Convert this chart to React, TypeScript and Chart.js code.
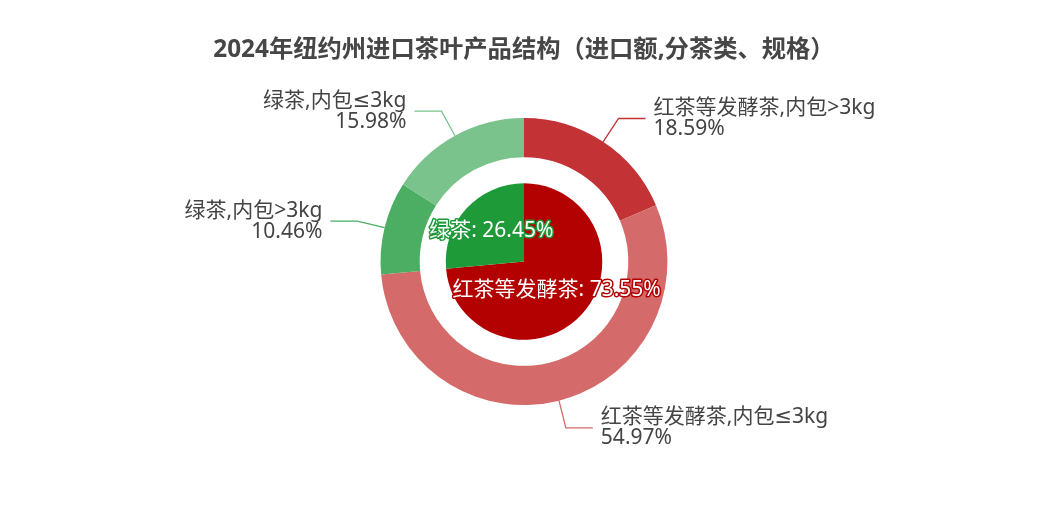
import { useEffect, useRef } from "react";
import { Chart, registerables } from "chart.js";

Chart.register(...registerables);

const TITLE = "2024年纽约州进口茶叶产品结构（进口额,分茶类、规格）";

// outer ring: by category and package size
const outerLabels = ["红茶等发酵茶,内包>3kg", "红茶等发酵茶,内包≤3kg", "绿茶,内包>3kg", "绿茶,内包≤3kg"];
const outerValues = [18.59, 54.97, 10.46, 15.98];
const outerColors = ["#c33335", "#d46a6a", "#4cae63", "#7bc38c"];

// inner pie: by category
const innerLabels = ["红茶等发酵茶", "绿茶"];
const innerValues = [73.55, 26.45];
const innerColors = ["#b30000", "#1e9a39"];

const FONT = "'Noto Sans', 'DejaVu Sans', 'Noto Sans CJK SC', sans-serif";

const pct = (v: number, arr: number[]) =>
  ((v / arr.reduce((a, b) => a + b, 0)) * 100).toFixed(2) + "%";

const labelPlugin = {
  id: "pieLabels",
  afterDatasetsDraw(chart: any) {
    const ctx = chart.ctx;
    ctx.save();

    // outer labels with leader lines
    const outer = chart.getDatasetMeta(0);
    outer.data.forEach((arc: any, i: number) => {
      const { x, y, startAngle, endAngle, outerRadius } = arc.getProps(
        ["x", "y", "startAngle", "endAngle", "outerRadius"], true);
      const a = (startAngle + endAngle) / 2;
      const cos = Math.cos(a);
      const sin = Math.sin(a);
      const x0 = x + cos * outerRadius;
      const y0 = y + sin * outerRadius;
      const x1 = x + cos * (outerRadius + 28);
      const y1 = y + sin * (outerRadius + 28);
      const right = cos >= 0;
      const x2 = x1 + (right ? 27 : -27);

      ctx.strokeStyle = outerColors[i];
      ctx.lineWidth = 1.3;
      ctx.beginPath();
      ctx.moveTo(x0, y0);
      ctx.lineTo(x1, y1);
      ctx.lineTo(x2, y1);
      ctx.stroke();

      ctx.fillStyle = "#444";
      ctx.font = `21px ${FONT}`;
      ctx.textAlign = right ? "left" : "right";
      ctx.textBaseline = "middle";
      const tx = x2 + (right ? 8 : -8);
      ctx.fillText(outerLabels[i], tx, y1 - 10.5);
      ctx.fillText(pct(outerValues[i], outerValues), tx, y1 + 10.5);
    });

    // inner labels, white text with coloured outline
    const inner = chart.getDatasetMeta(2);
    inner.data.forEach((arc: any, i: number) => {
      const { x, y, startAngle, endAngle, outerRadius } = arc.getProps(
        ["x", "y", "startAngle", "endAngle", "outerRadius"], true);
      const a = (startAngle + endAngle) / 2;
      const r = outerRadius * 0.565;
      const tx = x + Math.cos(a) * r;
      const ty = y + Math.sin(a) * r - 1;
      const text = `${innerLabels[i]}: ${pct(innerValues[i], innerValues)}`;
      ctx.font = `21px ${FONT}`;
      ctx.textAlign = "center";
      ctx.textBaseline = "middle";
      ctx.lineJoin = "round";
      ctx.lineWidth = 3;
      ctx.strokeStyle = innerColors[i];
      ctx.strokeText(text, tx, ty);
      ctx.fillStyle = "#ffffff";
      ctx.fillText(text, tx, ty);
    });

    ctx.restore();
  },
};

export default function App() {
  const canvasRef = useRef<HTMLCanvasElement>(null);
  const chartRef = useRef<Chart | null>(null);

  useEffect(() => {
    if (!canvasRef.current) return;
    if (chartRef.current) chartRef.current.destroy();

    chartRef.current = new Chart(canvasRef.current, {
      type: "doughnut",
      data: {
        labels: outerLabels,
        datasets: [
          {
            data: outerValues,
            backgroundColor: outerColors,
            borderWidth: 0,
            weight: 39,
          },
          {
            // white gap between ring and pie
            data: [1],
            backgroundColor: ["rgba(0,0,0,0)"],
            borderWidth: 0,
            weight: 26,
          },
          {
            data: innerValues,
            backgroundColor: innerColors,
            borderWidth: 0,
            weight: 78,
          },
        ],
      },
      options: {
        responsive: true,
        maintainAspectRatio: false,
        animation: false,
        cutout: 0,
        layout: { padding: { top: 20, bottom: 119, left: 0, right: 0 } },
        plugins: {
          legend: { display: false },
          tooltip: { enabled: false },
          title: {
            display: true,
            text: TITLE,
            color: "#464646",
            font: { family: FONT, size: 24.3, weight: "bold", lineHeight: 1.2 },
            padding: { top: 15.4, bottom: 53.5 },
          },
        },
      },
      plugins: [labelPlugin],
    });

    return () => {
      if (chartRef.current) {
        chartRef.current.destroy();
        chartRef.current = null;
      }
    };
  }, []);

  return (
    <div style={{ position: "fixed", left: 0, top: 0, width: 1048, height: 524, background: "#fff" }}>
      <canvas ref={canvasRef} />
    </div>
  );
}
